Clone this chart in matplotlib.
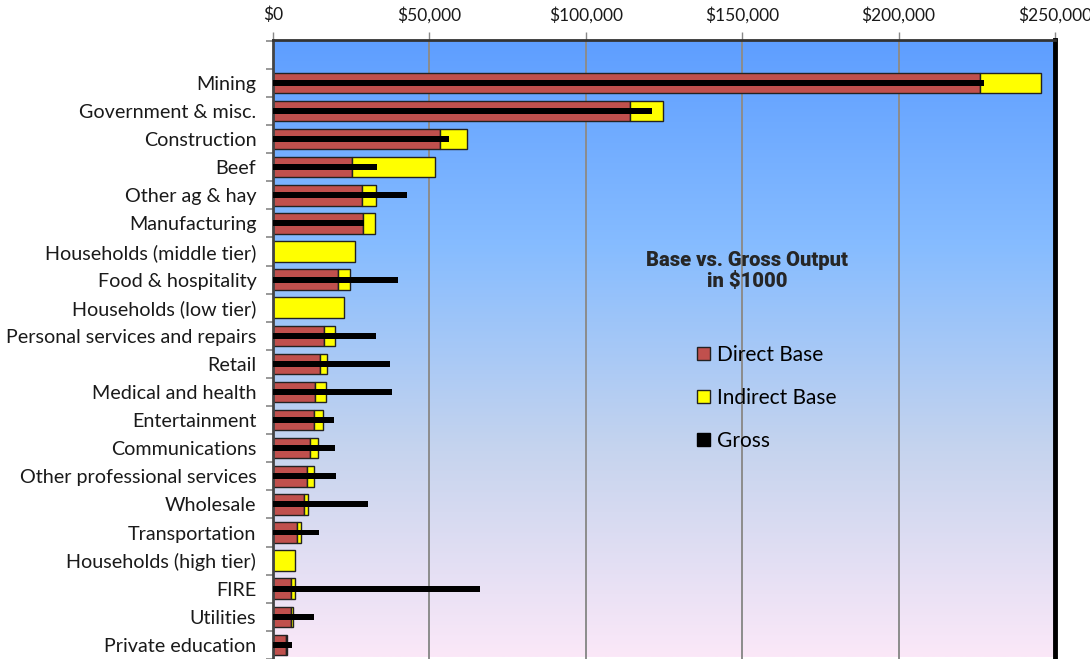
import numpy as np
import matplotlib
matplotlib.use('Agg')
import matplotlib.pyplot as plt
from matplotlib.colors import LinearSegmentedColormap
from matplotlib.patches import Patch
from matplotlib.ticker import FuncFormatter, MultipleLocator

plt.rcParams['font.family'] = ['Lato', 'DejaVu Sans']

categories = ["Mining", "Government & misc.", "Construction", "Beef",
              "Other ag & hay", "Manufacturing", "Households (middle tier)",
              "Food & hospitality", "Households (low tier)",
              "Personal services and repairs", "Retail", "Medical and health",
              "Entertainment", "Communications", "Other professional services",
              "Wholesale", "Transportation", "Households (high tier)", "FIRE",
              "Utilities", "Private education"]
# values in $1000
direct_base = [226000, 114000, 53400, 25400, 28300, 28800, 0, 20900, 0, 16200,
               15000, 13300, 13000, 11800, 11000, 9900, 7700, 0, 5900, 5800, 4300]
indirect_base = [19400, 10600, 8600, 26500, 4500, 3900, 26100, 3600, 22600, 3600,
                 2200, 3700, 3000, 2700, 2200, 1400, 1200, 7000, 1000, 600, 300]
gross = [227300, 121100, 56300, 33200, 42700, 29000, 0, 40100, 0, 32900,
         37300, 38100, 19500, 19800, 20000, 30500, 14600, 0, 66300, 13200, 6000]

red = '#C0504D'
yellow = '#FFFF00'
edge = '#222222'

fig = plt.figure(figsize=(10.9, 6.59), dpi=100)
ax = fig.add_axes([273 / 1090, 0, 782 / 1090, 619 / 659])

y = np.arange(len(categories))
ylim = (20.43, -1.525)

# gradient background
grad = LinearSegmentedColormap.from_list('bg', ['#5E9EFF', '#86BCFF', '#C6D4EE', '#FBE8F8'])
ax.imshow(np.linspace(0, 1, 256).reshape(-1, 1), cmap=grad, aspect='auto',
          extent=(0, 250000, ylim[0], ylim[1]), origin='upper', zorder=0)

for xv in [50000, 100000, 150000, 200000]:
    ax.axvline(xv, color='#8C8C8C', lw=1.4, zorder=1)

ax.barh(y, direct_base, height=0.73, color=red, edgecolor=edge, lw=1, zorder=2)
ax.barh(y, indirect_base, left=direct_base, height=0.73, color=yellow,
        edgecolor=edge, lw=1, zorder=2)
ax.barh(y, gross, height=0.21, color='black', lw=0, zorder=3)

ax.set_xlim(0, 250000)
ax.set_ylim(*ylim)

ax.xaxis.tick_top()
ax.xaxis.set_major_locator(MultipleLocator(50000))
ax.xaxis.set_major_formatter(FuncFormatter(lambda v, p: '${:,.0f}'.format(v)))
ax.tick_params(axis='x', which='major', length=6, width=1, color='#888888',
               labelsize=12.5, labelcolor='#1a1a1a', pad=6)

ax.set_yticks(y)
ax.set_yticklabels(categories)
ax.set_yticks(np.arange(-1.5, 21, 1), minor=True)
ax.tick_params(axis='y', which='major', length=0, labelsize=14.2,
               labelcolor='#1a1a1a', pad=12)
ax.tick_params(axis='y', which='minor', length=5, width=1.2, color='#888888')

ax.spines['top'].set_color('#333333')
ax.spines['top'].set_linewidth(2)
ax.spines['left'].set_color('#444444')
ax.spines['left'].set_linewidth(2)
ax.spines['right'].set_color('black')
ax.spines['right'].set_linewidth(3.5)
ax.spines['bottom'].set_visible(False)

fig.text(747 / 1090, 1 - 271 / 659, 'Base vs. Gross Output\nin $1000',
         ha='center', va='center', fontsize=14.5, fontweight='heavy',
         color='#262626', family=['Roboto', 'DejaVu Sans'], linespacing=1.1)

handles = [Patch(facecolor=red, edgecolor=edge, lw=1),
           Patch(facecolor=yellow, edgecolor=edge, lw=1),
           Patch(facecolor='black', edgecolor='black', lw=1)]
fig.legend(handles, ['Direct Base', 'Indirect Base', 'Gross'],
           loc='upper left', bbox_to_anchor=(697 / 1090, 1 - 345 / 659),
           frameon=False, fontsize=15, handlelength=0.6, handleheight=0.6,
           handletextpad=0.35, labelspacing=1.1, borderpad=0, borderaxespad=0)

fig.savefig('out.png', dpi=100)
